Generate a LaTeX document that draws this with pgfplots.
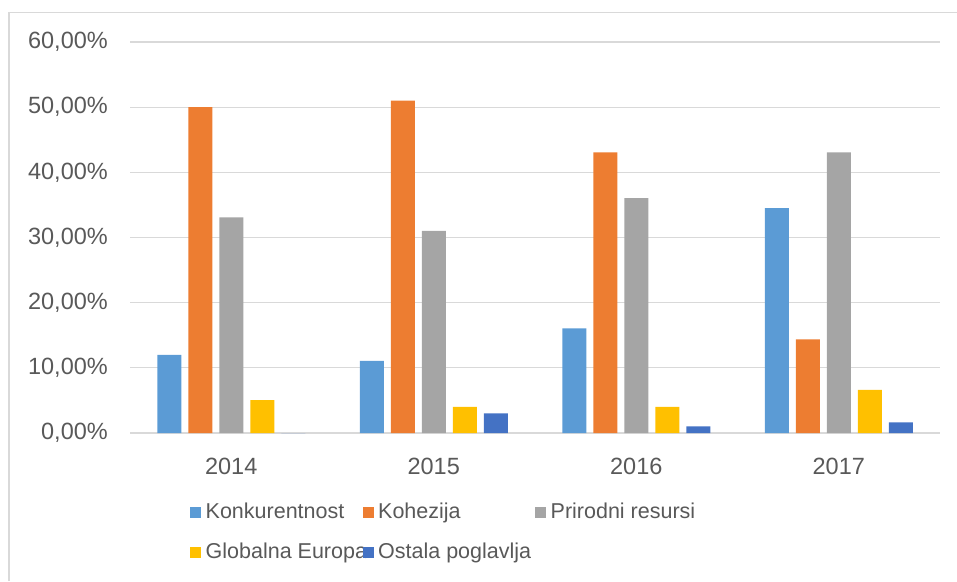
\documentclass[border=0pt]{standalone}
\usepackage{fontspec}
\setmainfont{Liberation Sans}
\usepackage{pgfplots}
\pgfplotsset{compat=1.18}
\definecolor{cK}{HTML}{5B9BD5}
\definecolor{cH}{HTML}{ED7D31}
\definecolor{cP}{HTML}{A5A5A5}
\definecolor{cG}{HTML}{FFC000}
\definecolor{cO}{HTML}{4472C4}
\definecolor{gridc}{HTML}{D9D9D9}
\definecolor{txt}{HTML}{595959}
\begin{document}
\begin{tikzpicture}[x=1pt,y=1pt]
\path[use as bounding box] (0,0) rectangle (957,581);
\draw[gridc, line width=1.5pt] (9,0) -- (9,568.5) -- (957,568.5);
\begin{axis}[
  at={(130pt,148pt)}, anchor=south west,
  scale only axis, width=810pt, height=391pt,
  ybar=7pt, bar width=24pt,
  xmin=-0.5, xmax=3.5, ymin=0, ymax=60,
  xtick=data, xticklabels={2014,2015,2016,2017},
  ytick={0,10,20,30,40,50,60},
  yticklabels={{0,00\%},{10,00\%},{20,00\%},{30,00\%},{40,00\%},{50,00\%},{60,00\%}},
  /pgf/number format/assume math mode=true,
  ymajorgrids, major grid style={gridc, line width=1.3pt},
  axis line style={draw=none}, tick style={draw=none},
  font=\fontsize{23}{27}\selectfont,
  tick label style={text=txt, font=\fontsize{23.5}{27}\selectfont},
  yticklabel style={inner sep=0pt, anchor=east, xshift=-22pt},
  xticklabel style={inner sep=0pt, anchor=north, yshift=-21pt},
  legend columns=3,
  legend style={at={(60/810,-68/391)}, anchor=north west, draw=none, inner sep=0pt,
    font=\fontsize{21.5}{26}\selectfont, text=txt,
    nodes={inner sep=0pt, text height=17pt, text depth=5pt},
    /tikz/every odd column/.append style={column sep=4.5pt},
    /tikz/every even column/.append style={column sep=0pt},
    row sep=18pt},
  legend cell align=left,
  legend image code/.code={\fill[#1] (0pt,-5.5pt) rectangle (11pt,5.5pt);},
]
\addplot[fill=cK, draw=none] coordinates {(0,12.0) (1,11.05) (2,16.05) (3,34.5)};
\addplot[fill=cH, draw=none] coordinates {(0,50.0) (1,51.0) (2,43.05) (3,14.35)};
\addplot[fill=cP, draw=none] coordinates {(0,33.1) (1,31.0) (2,36.05) (3,43.05)};
\addplot[fill=cG, draw=none] coordinates {(0,5.05) (1,4.0) (2,4.0) (3,6.6)};
\addplot[fill=cO, draw=none] coordinates {(0,0) (1,3.0) (2,1.0) (3,1.65)};
\addlegendentry{\makebox[157pt][l]{Konkurentnost}}
\addlegendentry{\makebox[157pt][l]{Kohezija}}
\addlegendentry{\makebox[157pt][l]{Prirodni resursi}}
\addlegendentry{\makebox[157pt][l]{Globalna Europa}}
\addlegendentry{\makebox[157pt][l]{Ostala poglavlja}}
\end{axis}
\end{tikzpicture}
\end{document}
